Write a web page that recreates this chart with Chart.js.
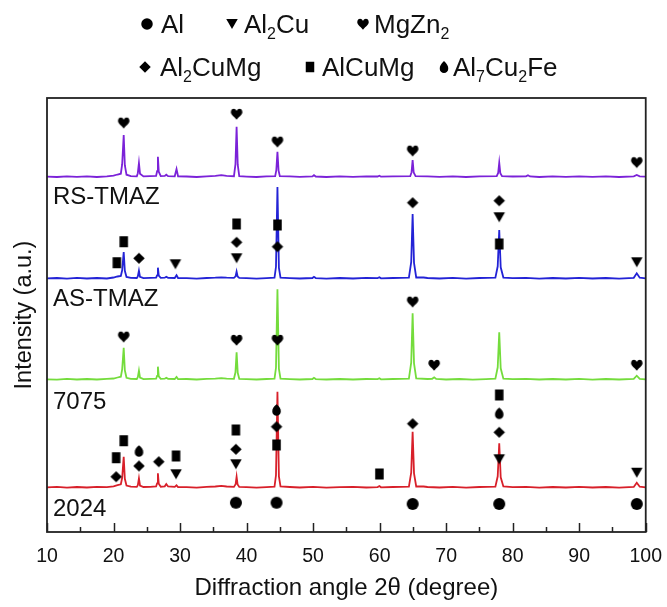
<!DOCTYPE html>
<html>
<head>
<meta charset="utf-8">
<script src="https://cdn.jsdelivr.net/npm/chart.js@4/dist/chart.umd.min.js"></script>
<style>
  html, body { margin: 0; padding: 0; background: #fff; }
  #wrap { position: relative; width: 667px; height: 607px; }
  canvas { display: block; }
</style>
</head>
<body>
<div id="wrap"><canvas id="c" width="667" height="607"></canvas></div>
<script>
// ---------------- DATA ----------------
const seriesNames = ['2024', '7075', 'AS-TMAZ', 'RS-TMAZ'];
const seriesColors = ['#D8202A', '#74DC3C', '#2323D6', '#7B22D8'];
const stackOffsets = [447, 1527, 2537, 3553];   // vertical stacking of the patterns (a.u.)
const xTickLabels = [10, 20, 30, 40, 50, 60, 70, 80, 90, 100];

// Intensity (a.u.) vs 2θ (degree)
const int2024 = [
 [10,0],[11.5,4],[13,-3],[14.5,3],[16,-2],[17.5,4],[19,2],[20,10],[20.6,22],[21.1,30],[21.3,95],[21.53,306],[21.7,85],[21.95,18],[22.6,6],[23.5,4],
 [23.65,20],[23.82,90],[23.98,18],[24.5,3],[25.5,5],[26.4,8],[26.55,40],[26.67,140],[26.8,35],[27.1,6],[27.7,10],[27.93,33],[28.2,8],[29.2,4],[29.47,20],[29.7,3],
 [31,2],[32.5,-3],[34,4],[35.3,8],[36.2,15],[37,8],[38.1,4],[38.35,30],[38.5,106],[38.65,28],[38.9,4],[40,1],[41.5,-3],[43,2],[44.2,6],[44.42,120],[44.64,956],[44.86,110],[45.1,8],[46.5,3],
 [48,-2],[50,4],[52,-3],[54,2],[56,4],[58,-2],[59.7,2],[59.97,13],[60.2,0],[62,3],[64.4,6],[64.75,150],[64.96,556],[65.17,140],[65.5,8],[66.6,8],[67.2,3],[69,-2],[71,4],[73,-3],[75,3],
 [77.4,6],[77.75,110],[77.98,440],[78.2,100],[78.6,8],[80,2],[82,5],[84,-3],[86,3],[88,-2],[90,4],[92,-2],[94,3],[96,-3],[98.2,4],[98.65,46],[99.1,6],[100,0]
];
const int7075 = [
 [10,0],[11.5,-3],[13,4],[14.5,-2],[16,3],[17.5,-2],[19,4],[20,8],[20.6,18],[21.1,26],[21.3,100],[21.53,316],[21.7,90],[21.95,15],[22.6,4],[23.5,3],
 [23.65,20],[23.82,86],[23.98,16],[24.5,2],[25.5,4],[26.4,6],[26.55,35],[26.67,126],[26.8,30],[27.1,5],[27.7,6],[27.93,15],[28.2,5],[29.2,3],[29.47,23],[29.7,2],
 [31,3],[32.5,-2],[34,4],[35.3,7],[36.2,12],[37,7],[38.1,5],[38.33,70],[38.5,270],[38.67,65],[38.9,5],[40,2],[41.5,-2],[43,3],[44.2,6],[44.42,115],[44.64,900],[44.86,105],[45.1,6],[46.5,2],
 [48,-2],[49.9,3],[50.13,15],[50.4,2],[52,-2],[54,3],[56,-2],[58,3],[59.7,2],[59.97,10],[60.2,0],[62,3],[64.4,6],[64.75,170],[64.96,660],[65.17,160],[65.5,8],[67.2,3],[67.9,5],[68.2,20],[68.5,4],[70,-2],[72,3],[74,-3],[76,2],
 [77.4,6],[77.75,120],[77.98,470],[78.2,110],[78.6,6],[80,2],[82,4],[84,-2],[86,3],[88,-2],[90,4],[92,-3],[94,3],[96,-2],[98.2,5],[98.65,36],[99.1,5],[100,0]
];
const intAS = [
 [10,0],[11.5,3],[13,-3],[14.5,4],[16,-2],[17.5,3],[19,-2],[20,8],[20.6,18],[21.1,24],[21.3,80],[21.53,263],[21.7,75],[21.95,14],[22.6,4],[23.5,3],
 [23.65,18],[23.82,76],[23.98,15],[24.5,2],[25.5,4],[26.4,6],[26.55,30],[26.67,106],[26.8,26],[27.1,5],[27.7,6],[27.93,15],[28.2,5],[29.2,3],[29.47,30],[29.7,3],
 [31,2],[32.5,-3],[34,3],[35.3,6],[36.2,10],[37,6],[38.1,4],[38.35,20],[38.5,66],[38.65,18],[38.9,4],[40,1],[41.5,-3],[43,2],[44.2,6],[44.42,115],[44.64,913],[44.86,105],[45.1,7],[46.5,2],
 [48,-2],[49.9,3],[50.13,15],[50.4,2],[52,-3],[54,3],[56,-2],[58,4],[59.7,2],[59.97,10],[60.2,0],[62,3],[64.4,6],[64.75,165],[64.96,643],[65.17,155],[65.5,8],[66.6,8],[67.2,3],[69,-2],[71,4],[73,-3],[75,3],
 [77.4,6],[77.75,120],[77.98,483],[78.2,110],[78.6,7],[80,2],[82,4],[84,-3],[86,3],[88,-2],[90,4],[92,-2],[94,3],[96,-3],[98.2,5],[98.65,50],[99.1,6],[100,0]
];
const intRS = [
 [10,0],[11.5,-3],[13,3],[14.5,-2],[16,4],[17.5,-3],[19,3],[20,10],[20.6,22],[21.1,30],[21.3,125],[21.53,417],[21.7,115],[21.95,20],[22.6,5],[23.5,4],
 [23.65,35],[23.82,137],[23.98,30],[24.5,3],[25.5,5],[26.4,8],[26.55,55],[26.67,200],[26.8,50],[27.1,6],[27.7,8],[27.93,20],[28.2,6],[29.2,4],[29.47,77],[29.7,4],
 [31,2],[32.5,-3],[34,4],[35.3,9],[36.2,15],[37,9],[38.1,5],[38.33,125],[38.5,500],[38.67,120],[38.9,5],[40,1],[41.5,-3],[43,3],[44.3,5],[44.47,65],[44.64,250],[44.81,60],[45.0,5],[46.5,3],
 [48,-2],[49.9,3],[50.13,15],[50.4,2],[52,-3],[54,3],[56,-2],[58,4],[59.7,2],[59.97,10],[60.2,0],[62,3],[64.6,5],[64.8,45],[64.96,167],[65.12,42],[65.4,6],[67.2,3],[69,-2],[71,4],[73,-3],[75,3],
 [77.6,5],[77.82,38],[77.98,140],[78.14,35],[78.4,5],[80,2],[82,4],[82.3,15],[82.6,3],[84,-3],[86,3],[88,-2],[90,4],[92,-2],[94,3],[96,-3],[98.2,4],[98.65,17],[99.1,4],[100,0]
];
const intensities = [int2024, int7075, intAS, intRS];

// Phase markers [2θ, height in a.u. on the stacked scale]
const mkAl       = [[38.4,293],[44.5,293],[64.96,280],[77.98,280],[98.65,280]];
const mkAl2Cu    = [[29.3,2677],[38.5,2737],[77.98,3147],[98.65,2697],
                    [29.4,577],[38.4,677],[77.98,727],[98.65,593]];
const mkMgZn2    = [[21.53,4093],[38.5,4180],[44.64,3903],[64.96,3813],[98.65,3697],
                    [21.53,1953],[38.5,1920],[44.64,1920],[64.96,2303],[68.2,1670],[98.65,1670]];
const mkAl2CuMg  = [[23.82,2737],[38.5,2897],[44.64,2853],[64.96,3293],[77.98,3313],
                    [20.4,553],[23.82,660],[26.8,703],[38.4,827],[44.5,1053],[64.96,1083],[77.98,997]];
const mkAlCuMg   = [[20.5,2693],[21.53,2903],[38.5,3080],[44.64,3070],[77.98,2880],
                    [20.4,743],[21.53,913],[29.4,760],[38.4,1020],[44.5,870],[59.97,580],[77.98,1370]];
const mkAl7Cu2Fe = [[23.82,810],[44.5,1220],[77.98,1187]];

// ---------------- SHAPES ----------------
function drawShape(ctx, kind, cx, cy, w, h) {
  ctx.beginPath();
  if (kind === 'circle') {
    ctx.arc(cx, cy, w / 2, 0, Math.PI * 2);
  } else if (kind === 'triDown') {
    ctx.moveTo(cx - w / 2, cy - h / 2); ctx.lineTo(cx + w / 2, cy - h / 2); ctx.lineTo(cx, cy + h / 2); ctx.closePath();
  } else if (kind === 'heart') {
    ctx.moveTo(cx, cy + h / 2);
    ctx.bezierCurveTo(cx - w * 0.12, cy + h * 0.28, cx - w / 2, cy + h * 0.08, cx - w / 2, cy - h * 0.16);
    ctx.bezierCurveTo(cx - w / 2, cy - h * 0.5, cx - w * 0.12, cy - h * 0.56, cx, cy - h * 0.26);
    ctx.bezierCurveTo(cx + w * 0.12, cy - h * 0.56, cx + w / 2, cy - h * 0.5, cx + w / 2, cy - h * 0.16);
    ctx.bezierCurveTo(cx + w / 2, cy + h * 0.08, cx + w * 0.12, cy + h * 0.28, cx, cy + h / 2);
  } else if (kind === 'diamond') {
    ctx.moveTo(cx, cy - h / 2); ctx.lineTo(cx + w / 2, cy); ctx.lineTo(cx, cy + h / 2); ctx.lineTo(cx - w / 2, cy); ctx.closePath();
  } else if (kind === 'square') {
    ctx.rect(cx - w / 2, cy - h / 2, w, h);
  } else if (kind === 'drop') {
    const r = w / 2, ccy = cy + h / 2 - r;
    ctx.moveTo(cx, cy - h / 2);
    ctx.quadraticCurveTo(cx + r * 1.05, ccy - r * 0.9, cx + r, ccy);
    ctx.arc(cx, ccy, r, 0, Math.PI, false);
    ctx.quadraticCurveTo(cx - r * 1.05, ccy - r * 0.9, cx, cy - h / 2);
  }
  ctx.fillStyle = '#000';
  ctx.fill();
}
function makeSymbol(kind, w, h) {
  const c = document.createElement('canvas');
  c.width = Math.ceil(w) + 2; c.height = Math.ceil(h) + 2;
  drawShape(c.getContext('2d'), kind, c.width / 2, c.height / 2, w, h);
  return c;
}
const symbols = {
  circle: makeSymbol('circle', 12, 12),
  triDown: makeSymbol('triDown', 11.5, 10),
  heart: makeSymbol('heart', 11.5, 11.5),
  diamond: makeSymbol('diamond', 11.5, 11),
  square: makeSymbol('square', 8.5, 11),
  drop: makeSymbol('drop', 8.5, 11.5)
};

// ---------------- DATASETS ----------------
const FONT = '"Liberation Sans", Arial, Helvetica, sans-serif';
const datasets = [];
function markerSet(points, sym) {
  return {
    data: points.map(p => ({ x: p[0], y: p[1] })),
    showLine: false, pointStyle: symbols[sym], pointRadius: 6, pointHoverRadius: 6, order: 0
  };
}
datasets.push(markerSet(mkAl, 'circle'));
datasets.push(markerSet(mkAl2Cu, 'triDown'));
datasets.push(markerSet(mkMgZn2, 'heart'));
datasets.push(markerSet(mkAl2CuMg, 'diamond'));
datasets.push(markerSet(mkAlCuMg, 'square'));
datasets.push(markerSet(mkAl7Cu2Fe, 'drop'));
intensities.forEach((arr, i) => {
  datasets.push({
    label: seriesNames[i],
    data: arr.map(p => ({ x: p[0], y: p[1] + stackOffsets[i] })),
    showLine: true, borderColor: seriesColors[i], borderWidth: 1.8,
    pointRadius: 0, tension: 0, order: 1
  });
});

// ---------------- PLUGINS ----------------
const framePlugin = {
  id: 'frame',
  afterDraw(chart) {
    const { ctx, chartArea: a, scales: { x, y } } = chart;
    ctx.save();
    // inward ticks
    ctx.strokeStyle = '#222'; ctx.lineWidth = 1.5;
    for (let v = 10; v <= 100; v += 5) {
      const px = Math.round(x.getPixelForValue(v)) + 0.5;
      const len = (v % 10 === 0) ? 9 : 5;
      ctx.beginPath(); ctx.moveTo(px, a.bottom); ctx.lineTo(px, a.bottom - len); ctx.stroke();
    }
    // box
    ctx.lineWidth = 1.8; ctx.strokeStyle = '#222';
    ctx.strokeRect(a.left, a.top, a.right - a.left, a.bottom - a.top);

    // series labels
    ctx.fillStyle = '#111'; ctx.font = '24px ' + FONT; ctx.textBaseline = 'alphabetic'; ctx.textAlign = 'left';
    const labelY = [160, 1227, 2260, 3280];
    seriesNames.forEach((n, i) => ctx.fillText(n, a.left + 6, y.getPixelForValue(labelY[i])));

    // legend
    const items = [
      { sym: 'circle', w: 11.5, h: 11.5, cx: 147, row: 0, tx: 161, parts: [['Al', 0]] },
      { sym: 'triDown', w: 11.5, h: 10, cx: 232, row: 0, tx: 244, parts: [['Al', 0], ['2', 1], ['Cu', 0]] },
      { sym: 'heart', w: 11.5, h: 11.5, cx: 363, row: 0, tx: 374, parts: [['MgZn', 0], ['2', 1]] },
      { sym: 'diamond', w: 11.5, h: 11.5, cx: 145, row: 1, tx: 160, parts: [['Al', 0], ['2', 1], ['CuMg', 0]] },
      { sym: 'square', w: 8.5, h: 10.5, cx: 310, row: 1, tx: 322, parts: [['AlCuMg', 0]] },
      { sym: 'drop', w: 8.5, h: 12, cx: 444, row: 1, tx: 453, parts: [['Al', 0], ['7', 1], ['Cu', 0], ['2', 1], ['Fe', 0]] }
    ];
    const baselines = [33, 76];
    items.forEach(it => {
      const bl = baselines[it.row];
      drawShape(ctx, it.sym, it.cx, bl - 9, it.w, it.h);
      let xx = it.tx;
      it.parts.forEach(([t, sub]) => {
        ctx.fillStyle = '#111';
        ctx.font = (sub ? '16px ' : '26px ') + FONT;
        ctx.fillText(t, xx, bl + (sub ? 6 : 0));
        xx += ctx.measureText(t).width;
      });
    });
    ctx.restore();
  }
};

const bgPlugin = {
  id: 'bg',
  beforeDraw(chart) {
    const { ctx } = chart;
    ctx.save(); ctx.fillStyle = '#fff'; ctx.fillRect(0, 0, chart.width, chart.height); ctx.restore();
  }
};

new Chart(document.getElementById('c'), {
  type: 'scatter',
  data: { datasets },
  options: {
    responsive: false, animation: false,
    layout: { padding: { left: 0, right: 19, top: 98, bottom: 0 } },
    plugins: { legend: { display: false }, tooltip: { enabled: false } },
    scales: {
      x: {
        type: 'linear', min: 10, max: 100,
        afterBuildTicks: s => { s.ticks = xTickLabels.map(v => ({ value: v })); },
        ticks: { font: { family: FONT, size: 19.5 }, color: '#111', padding: 5, maxRotation: 0, autoSkip: false },
        grid: { display: false }, border: { display: false },
        title: { display: true, text: 'Diffraction angle 2θ (degree)', color: '#111',
                 font: { family: FONT, size: 24 }, padding: { top: 0, bottom: 4 } },
        afterFit: s => { s.height = 75; }
      },
      y: {
        min: 0, max: 4340,
        ticks: { display: false }, grid: { display: false }, border: { display: false },
        title: { display: true, text: 'Intensity (a.u.)', color: '#111',
                 font: { family: FONT, size: 23.5 }, padding: { top: 10, bottom: 0 } },
        afterFit: s => { s.width = 47; }
      }
    }
  },
  plugins: [bgPlugin, framePlugin]
});
</script>
</body>
</html>
